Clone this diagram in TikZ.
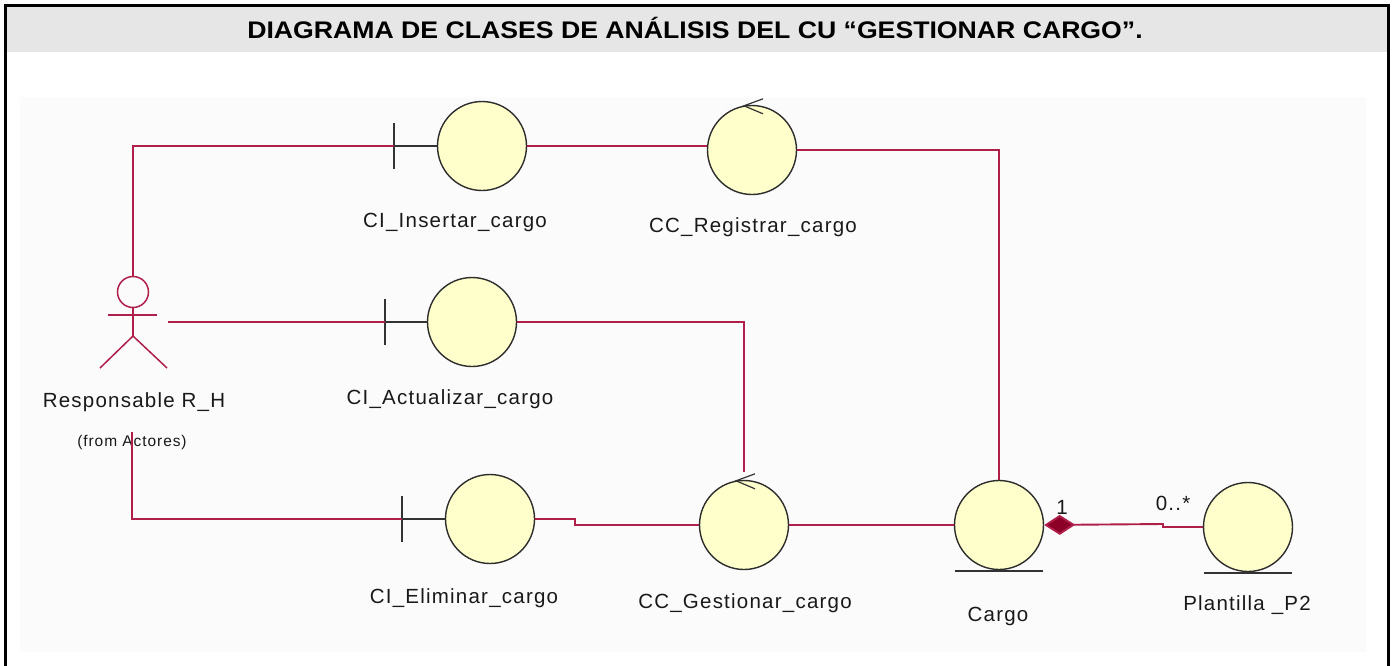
\documentclass[tikz,border=0pt]{standalone}
\usepackage{graphicx}
\usepackage{fontspec}
\setmainfont{Liberation Sans}
\newfontfamily\lblfont[LetterSpace=6]{Liberation Sans}
\usetikzlibrary{arrows.meta}
\definecolor{assoc}{RGB}{176,30,74}
\definecolor{clsfill}{RGB}{255,255,204}
\definecolor{clsdraw}{RGB}{45,45,45}
\definecolor{hdr}{RGB}{230,230,230}
\definecolor{diagbg}{RGB}{251,251,251}
\definecolor{compo}{RGB}{140,0,40}
\tikzset{
  cls/.style={circle, draw=clsdraw, fill=clsfill, line width=1.4pt, minimum size=89pt, inner sep=0pt},
  lbl/.style={font=\lblfont\fontsize{20.5}{22}\selectfont, text=black!90, inner sep=0pt},
  small/.style={font=\lblfont\fontsize{15.5}{17}\selectfont, text=black!90, inner sep=0pt},
  conn/.style={draw=assoc, line width=1.9pt},
  stub/.style={draw=black!80, line width=1.5pt},
  actorline/.style={draw=assoc, line width=1.5pt},
  frame/.style={draw=black, line width=3pt},
}
\begin{document}
\begin{tikzpicture}[x=1pt,y=-1pt]
\useasboundingbox (0,0) rectangle (1393,665);
% frame and header
\fill[white] (0,0) rectangle (1393,665);
\fill[hdr] (5,5) rectangle (1388,52);
\fill[diagbg] (20,97) rectangle (1366,652);
\draw[frame] (5,667) -- (5,5) -- (1388,5) -- (1388,667);
\node[font=\bfseries\fontsize{24}{26}\selectfont, inner sep=0pt] (title) at (695,28)
  {\scalebox{1.11}[1]{DIAGRAMA DE CLASES DE ANÁLISIS DEL CU “GESTIONAR CARGO”.}};

% actor
\node[circle, actorline, minimum size=31pt, inner sep=0pt] (actor) at (133,292) {};
\draw[actorline] (actor.south) -- (133,336) coordinate (hip);
\draw[actorline] (108,315) -- (157,315);
\draw[actorline] (100,368) -- (hip) -- (167,368);
\node[lbl] (actorlbl) at (134,402) {Responsable R\_H};
\node[small] (actorfrom) at (132,442) {(from Actores)};
\coordinate (actorR) at (168,322);
\coordinate (actorB) at (132,432);

% classes
\node[cls] (ciI) at (482,146) {};
\node[cls] (ccR) at (752,150) {};
\node[cls] (ciA) at (472,322) {};
\node[cls] (ciE) at (490,519) {};
\node[cls] (ccG) at (744,525) {};
\node[cls] (cargo) at (999,525) {};
\node[cls] (pl) at (1248,527) {};

% boundary ticks
\coordinate (tI) at (394,146);
\coordinate (tA) at (385,322);
\coordinate (tE) at (402,519);
\foreach \t/\c in {tI/ciI, tA/ciA, tE/ciE} {
  \draw[stub] ([yshift=23pt]\t) -- ([yshift=-23pt]\t);
  \draw[stub] (\t) -- (\c.west);
}

% control arrows
\foreach \c in {ccR, ccG} {
  \draw[stub, line width=1.2pt] ([xshift=11pt,yshift=6pt]\c.north) -- ([xshift=-8pt,yshift=-1pt]\c.north) -- ([xshift=11pt,yshift=-9pt]\c.north);
}

% entity ground lines
\foreach \c in {cargo, pl} {
  \draw[stub] ([xshift=-44pt,yshift=-1pt]\c.south) -- ([xshift=44pt,yshift=-1pt]\c.south);
}

% labels
\node[lbl] (lciI) at (455,222) {CI\_Insertar\_cargo};
\node[lbl] (lccR) at (753,227) {CC\_Registrar\_cargo};
\node[lbl] (lciA) at (450,399) {CI\_Actualizar\_cargo};
\node[lbl] (lciE) at (464,598) {CI\_Eliminar\_cargo};
\node[lbl] (lccG) at (745,603) {CC\_Gestionar\_cargo};
\node[lbl] (lcargo) at (998,616) {Cargo};
\node[lbl] (lpl) at (1247,605) {Plantilla \_P2};

% connectors
\draw[conn] (actor.north) |- (tI);
\draw[conn] (ciI.east) -- (ccR.west |- ciI.east);
\draw[conn] (ccR.east) -| (cargo.north);
\draw[conn] (actorR) -- (tA);
\draw[conn] (ciA.east) -| ([yshift=8pt]ccG.north);
\draw[conn] (actorB) |- (tE);
\draw[conn] (ciE.east) -- ++(40,0) |- (ccG.west);
\draw[conn] (ccG.east) -- (cargo.west);
\draw[conn, {Diamond[length=31pt,width=20pt,fill=compo]}-] (cargo.east) -- (1163,524) |- (pl.west);
\node[lbl] (m1) at (1062,507) {1};
\node[lbl] (m2) at (1173,503) {0..*};
\end{tikzpicture}
\end{document}
